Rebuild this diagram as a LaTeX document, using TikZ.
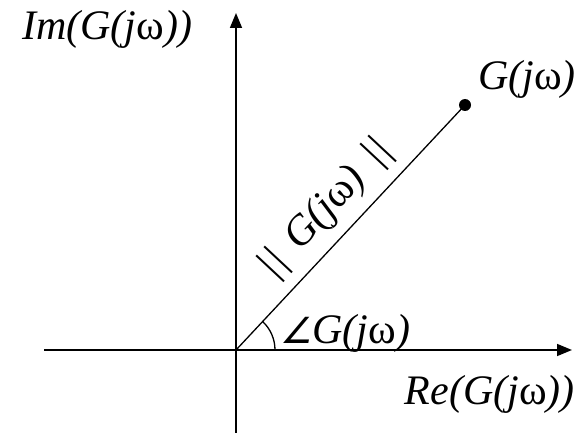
\documentclass[tikz,border=0pt]{standalone}
\usepackage{fontspec}
\setmainfont{Liberation Serif}
\newfontfamily\dv[FakeSlant=0.2]{DejaVu Sans}
\usetikzlibrary{arrows.meta}
\newcommand{\om}{\textup{ω}}
\tikzset{
  axis/.style={line width=1.6pt,-{Triangle[length=15pt,width=12pt]}},
  lbl/.style={font=\fontsize{42}{46}\selectfont\itshape, inner sep=0pt},
}
\begin{document}
\begin{tikzpicture}[x=1pt,y=-1pt]
\useasboundingbox (0,0) rectangle (586,433);
\coordinate (O) at (236,350);
\coordinate (xs) at (44,350);
\coordinate (xe) at (572,350);
\coordinate (ys) at (236,433);
\coordinate (ye) at (236,13);
\node[circle,fill=black,inner sep=0pt,minimum size=12pt] (P) at (465,105) {};
\draw[axis] (xs) -- (xe);
\draw[axis] (ys) -- (ye);
\draw[line width=1.3pt] (O) -- (P.center);
\draw[line width=1.3pt] ([xshift=39pt]O) arc[start angle=0,end angle=46.9,radius=39pt];
\node[lbl,anchor=base west] (im) at (22,40) {Im(G(j\om))};
\node[lbl,anchor=base west] (gp) at (478,90) {G(j\om)};
\node[lbl,anchor=base west] (ang) at (280,343) {{\dv\upshape\fontsize{36}{40}\selectfont ∠}G(j\om)};
\node[lbl,anchor=base east] (re) at (575,404) {Re(G(j\om))};
\path (O) -- (P.center) node[pos=0.49,sloped,above=11pt,lbl] (mag) {||\hspace{16pt}G(j\om)\hspace{16pt}||};
\end{tikzpicture}
\end{document}
